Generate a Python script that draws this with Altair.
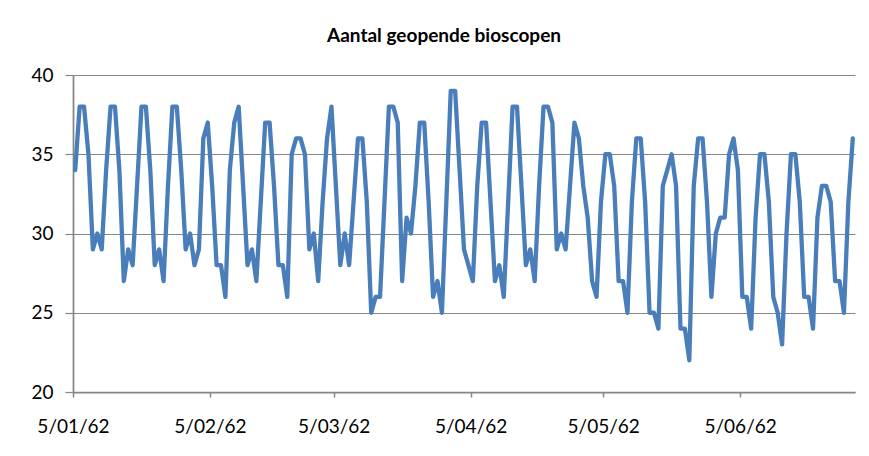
import altair as alt
import pandas as pd

# ---- data (daily values, Fri 5 Jan 1962 .. Sat 30 Jun 1962) ----
start_date = "1962-01-05"
axis_end = "1962-07-01"
bioscopen = [
    34, 38, 38, 35, 29, 30, 29,
    34, 38, 38, 34, 27, 29, 28,
    33, 38, 38, 34, 28, 29, 27,
    33, 38, 38, 34, 29, 30, 28,
    29, 36, 37, 33, 28, 28, 26,
    34, 37, 38, 33, 28, 29, 27,
    32, 37, 37, 33, 28, 28, 26,
    35, 36, 36, 35, 29, 30, 27,
    32, 36, 38, 33, 28, 30, 28,
    32, 36, 36, 32, 25, 26, 26,
    32, 38, 38, 37, 27, 31, 30,
    33, 37, 37, 32, 26, 27, 25,
    32, 39, 39, 34, 29, 28, 27,
    33, 37, 37, 32, 27, 28, 26,
    32, 38, 38, 33, 28, 29, 27,
    33, 38, 38, 37, 29, 30, 29,
    33, 37, 36, 33, 31, 27, 26,
    32, 35, 35, 33, 27, 27, 25,
    32, 36, 36, 32, 25, 25, 24,
    33, 34, 35, 33, 24, 24, 22,
    33, 36, 36, 32, 26, 30, 31,
    31, 35, 36, 34, 26, 26, 24,
    31, 35, 35, 32, 26, 25, 23,
    30, 35, 35, 32, 26, 26, 24,
    31, 33, 33, 32, 27, 27, 25,
    32, 36,
]
x_tick_months = [1, 2, 3, 4, 5, 6]   # ticks on the 5th of each month
y_ticks = [20, 25, 30, 35, 40]
title_text = "Aantal geopende bioscopen"

# each day sits in the middle of its slot (Excel "between tick marks")
dates = pd.date_range(start_date, periods=len(bioscopen), freq="D") + pd.Timedelta(hours=12)
df = pd.DataFrame({"datum": dates.strftime("%Y-%m-%dT%H:%M:%S"), "bioscopen": bioscopen})

s = pd.Timestamp(start_date)
e = pd.Timestamp(axis_end)
x_domain = [alt.DateTime(year=s.year, month=s.month, date=s.day),
            alt.DateTime(year=e.year, month=e.month, date=e.day)]
x_values = [alt.DateTime(year=1962, month=m, date=5) for m in x_tick_months]

FONT = "Lato"
GRAY = "#868686"

chart = (
    alt.Chart(df)
    .mark_line(color="#4A7EBB", strokeWidth=4.3, strokeJoin="round", strokeCap="round")
    .encode(
        x=alt.X(
            "datum:T",
            scale=alt.Scale(domain=x_domain),
            axis=alt.Axis(
                values=x_values,
                format="%-d/%m/%y",
                title=None,
                grid=False,
                labelFlush=False,
                labelOverlap=False,
                labelFont=FONT,
                labelFontSize=19,
                labelColor="#000000",
                labelPadding=20,
                tickSize=5,
                tickColor=GRAY,
                tickWidth=1.5,
                domainColor=GRAY,
                domainWidth=1.75,
            ),
        ),
        y=alt.Y(
            "bioscopen:Q",
            scale=alt.Scale(domain=[20, 40], nice=False, zero=False),
            axis=alt.Axis(
                values=y_ticks,
                title=None,
                grid=True,
                gridColor=GRAY,
                gridWidth=1.2,
                labelFont=FONT,
                labelFontSize=19,
                labelColor="#000000",
                labelPadding=12,
                tickSize=8,
                tickColor=GRAY,
                tickWidth=1.2,
                domainColor=GRAY,
                domainWidth=1.75,
            ),
        ),
    )
    .properties(
        width=782,
        height=317,
        title=alt.TitleParams(
            text=title_text,
            font=FONT,
            fontSize=19,
            fontWeight="bold",
            color="#000000",
            anchor="middle",
            dx=-20,
            offset=20,
        ),
        padding={"left": 65, "top": 67, "right": 5, "bottom": 55},
        autosize=alt.AutoSizeParams(type="none"),
    )
    .configure_view(stroke=None)
)

chart.save("out.html", embed_options={"renderer": "svg", "actions": False})
